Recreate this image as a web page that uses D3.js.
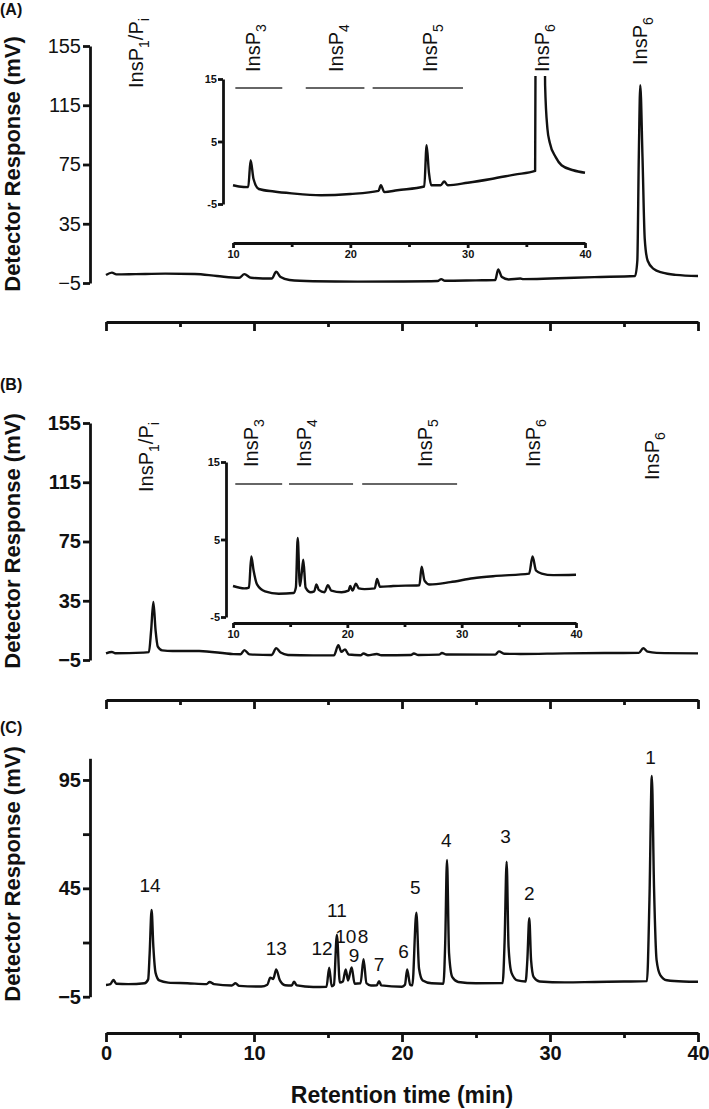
<!DOCTYPE html>
<html><head><meta charset="utf-8">
<script src="https://cdn.jsdelivr.net/npm/d3@7"></script>
<style>
body{margin:0;background:#fff;}
svg{display:block;font-family:"Liberation Sans",Arial,Helvetica,sans-serif;}
</style></head><body>
<svg id="chart" width="709" height="1109"></svg>
<script>
// ---------------- DATA ----------------
// Retention time (min), detector response (mV)
const traceA = [[0,0.4],[0.4,2.0],[0.7,0.8],[2,1.0],[4,1.3],[6,1.1],[7.5,-0.3],[9.0,-1.5],[9.35,1.0],[9.8,-1.5],[11.2,-2.0],[11.5,2.6],[11.8,-1.0],[12.4,-3.0],[14,-3.8],[17,-4.1],[20,-4.0],[22.4,-3.7],[22.65,-2.4],[22.9,-3.5],[25,-3.2],[26.3,-3.0],[26.5,4.2],[26.75,-1.0],[27.2,-2.6],[28.0,-2.0],[28.2,-2.4],[30,-2.0],[33,-1.0],[35.75,-0.3],[35.9,10],[36.0,80],[36.1,128.5],[36.25,80],[36.4,25],[36.6,10],[37.0,4.5],[37.6,2.0],[38.5,0.5],[40,-0.3]];
const insetTraceA = [[10,-2.0],[10.5,-2.2],[11.3,-2.3],[11.5,2.0],[11.75,-1.0],[12.2,-2.6],[13.5,-3.0],[15,-3.3],[17.5,-3.6],[20,-3.4],[22.4,-2.9],[22.6,-2.0],[22.9,-3.1],[24,-2.8],[26.3,-2.2],[26.5,4.4],[26.7,0],[26.9,-2.0],[27.7,-2.0],[28.0,-1.4],[28.3,-2.0],[30,-1.6],[32,-1.0],[34,-0.3],[35.75,0.3],[35.85,60],[36.1,128],[36.6,14],[36.8,7],[37.0,4.8],[37.5,2.5],[38,1.2],[39,0.4],[40,0.0]];
const traceB = [[0,-0.5],[0.4,0.4],[0.6,-0.4],[2.5,0.0],[2.9,0.3],[3.05,15],[3.2,34.2],[3.35,15],[3.5,4],[3.8,1.5],[4.5,1.1],[6.3,1.1],[8.6,-1.0],[9.1,-1.1],[9.35,1.7],[9.7,-1.2],[11.2,-1.6],[11.5,3.0],[11.8,0],[12.3,-1.6],[14,-1.9],[15.4,-1.9],[15.7,5.0],[15.9,0.5],[16.15,2.2],[16.4,-1.3],[17.2,-1.8],[17.4,-0.6],[17.7,-1.8],[18.3,-0.9],[18.6,-1.8],[20.6,-1.6],[20.8,-0.6],[21.1,-1.6],[22.5,-1.4],[22.7,-0.3],[23.0,-1.3],[26.3,-1.4],[26.55,0.8],[26.9,-0.8],[28,-0.9],[31,-0.5],[34,-0.3],[36.0,-0.2],[36.3,2.9],[36.6,0.6],[37.2,-0.2],[40,-0.5]];
const insetTraceB = [[10,-1.0],[11.0,-1.3],[11.4,-1.2],[11.6,2.8],[11.8,1.0],[12.1,-0.8],[12.8,-1.7],[14,-2.0],[15.3,-1.9],[15.5,-1.2],[15.66,5.2],[15.85,-1.0],[16.0,0.5],[16.15,2.4],[16.35,-1.2],[16.8,-1.8],[17.1,-1.7],[17.3,-0.8],[17.5,-1.5],[18.0,-1.8],[18.3,-0.9],[18.6,-1.6],[19.5,-1.8],[20.1,-1.6],[20.25,-1.0],[20.45,-1.6],[20.75,-0.7],[21.0,-1.3],[21.5,-1.4],[22.4,-1.3],[22.6,-0.1],[22.85,-1.1],[24,-1.0],[26.3,-0.9],[26.5,1.5],[26.75,-0.3],[27.2,-0.8],[29,-0.5],[31,0],[33,0.3],[35.9,0.6],[36.2,2.8],[36.5,1.0],[37,0.6],[38,0.4],[40,0.45]];
const traceC = [[0,0.4],[0.3,0.8],[0.5,2.7],[0.7,1.0],[1.5,0.8],[2.6,1.2],[2.85,3],[2.95,15],[3.08,35],[3.2,18],[3.35,6],[3.6,2.5],[4.2,1.5],[5.5,1.2],[6.8,0.8],[7.0,1.8],[7.3,0.8],[8.5,0.2],[8.75,1.2],[9.0,0.0],[10.5,-0.3],[10.9,0.5],[11.1,3.8],[11.3,3.2],[11.5,7.6],[11.75,2.5],[12.1,0.3],[12.55,0.2],[12.7,1.9],[12.9,0.2],[14,-0.5],[14.9,-0.4],[15.08,8.4],[15.25,-0.2],[15.4,0.5],[15.6,23.5],[15.8,1.5],[16.0,2.0],[16.2,7.6],[16.35,2.5],[16.6,8.5],[16.8,1.0],[17.2,1.2],[17.4,12.3],[17.6,1.2],[17.9,0.2],[18.3,0.3],[18.45,2.2],[18.6,0.2],[20.0,-0.4],[20.2,0.5],[20.35,7.6],[20.55,0.5],[20.7,0.3],[20.97,33.8],[21.15,8],[21.4,2.5],[22,1.2],[22.8,1.0],[22.92,20],[23.04,58.1],[23.18,15],[23.4,4],[23.8,1.8],[25,1.2],[26.8,1.3],[26.93,20],[27.07,57.3],[27.2,18],[27.4,6],[27.8,2.5],[28.35,2],[28.47,12],[28.6,31.2],[28.72,12],[28.9,4],[29.3,2],[31,1.6],[33,1.8],[35,2.0],[36.55,2.2],[36.72,40],[36.88,96.8],[37.03,45],[37.2,12],[37.45,5],[37.9,2.6],[39,2.0],[40,1.9]];

const mainYTicksAB = [-5,35,75,115,155];
const mainYTicksC = [-5,45,95];
const minorYTicksC = [20,70];
const xMajorTicks = [0,10,20,30,40];
const xMinorTicks = [5,15,25,35];
const insetYTicks = [-5,5,15];
const insetXMajor = [10,20,30,40];
const insetXMinor = [15,25,35];

// inositol phosphate fraction windows (min) shown as bars in the insets
const groupNamesAB = ["3","4","5"];
const groupFromA = [10.2,16.2,21.9];
const groupToA   = [14.2,21.2,29.6];
const groupFromB = [10.2,14.9,21.3];
const groupToB   = [14.3,20.5,29.6];
// peak-name label times
const insetLabelNames = ["3","4","5","6"];
const insetLabelTimesA = [11.7,18.8,26.8,36.3];
const insetLabelTimesB = [11.6,16.2,26.8,36.2];
const mainInsP1TimeA = 2.0, mainInsP1TimeB = 2.7;
const mainInsP6TimeA = 36.1, mainInsP6TimeB = 36.9;
// panel C peak numbers: label, time, mV (label baseline)
const peakLabelsC = ["14","13","12","11","10","8","9","7","6","5","4","3","2","1"];
const peakLabelTimesC = [2.97,11.5,14.6,15.6,16.2,17.36,16.76,18.45,20.1,20.9,23.0,27.0,28.6,36.8];
const peakLabelValuesC = [43.3,14.2,14.2,31.8,19.8,19.8,11.0,7.0,13.0,42.4,64.1,65.9,39.8,102.5];

// ---------------- LAYOUT ----------------
const svg = d3.select("#chart");
const X0 = 106, X1 = 698;
const BLACK = "#111";
const AXW = 2.8, LW = 2.4;

function styleAxis(g, fs, bold, sw){
  g.attr("font-size", null).attr("font-family", null);
  g.selectAll("path.domain").attr("stroke", BLACK).attr("stroke-width", sw);
  g.selectAll(".tick line").attr("stroke", BLACK).attr("stroke-width", sw);
  g.selectAll(".tick text").attr("fill", BLACK).attr("font-size", fs).attr("font-weight", bold ? "bold" : "normal");
}
const fmtMain = d => d < 0 ? "\u2212" + Math.abs(d) : String(d);
const fmtInset = d => d < 0 ? "-" + Math.abs(d) : String(d);
const lineGen = (x, y) => d3.line().curve(d3.curveMonotoneX).x(d => x(d[0])).y(d => y(d[1]));

function rotLabel(parent, cx, by, parts, fs){
  const t = parent.append("text")
    .attr("transform", `translate(${cx + 0.36*fs},${by}) rotate(-90)`)
    .attr("font-size", fs).attr("fill", BLACK);
  let shift = 0;
  parts.forEach(([s, sub]) => {
    const want = sub ? fs*0.3 : 0;
    const ts = t.append("tspan").text(s).attr("dy", want - shift);
    if (sub) ts.attr("font-size", fs*0.7);
    shift = want;
  });
}

function mainPanel(cfg){
  const g = svg.append("g");
  const x = d3.scaleLinear().domain([0,40]).range([X0,X1]);
  const y = d3.scaleLinear().domain(cfg.yDomain).range(cfg.yRange);
  const ya = g.append("g").attr("transform", "translate(90,0)")
    .call(d3.axisLeft(y).tickValues(cfg.yTicks).tickSize(7).tickSizeOuter(0).tickPadding(2).tickFormat(fmtMain));
  styleAxis(ya, cfg.tickFs, cfg.tickBold, AXW);
  if (cfg.yMinor){
    const ym = g.append("g").attr("transform", "translate(90,0)")
      .call(d3.axisLeft(y).tickValues(cfg.yMinor).tickSize(7).tickFormat(""));
    ym.select(".domain").remove();
    styleAxis(ym, 0, false, AXW);
  }
  const xa = g.append("g").attr("transform", `translate(0,${cfg.xAxisY})`)
    .call(d3.axisBottom(x).tickValues(xMajorTicks).tickSize(9).tickSizeOuter(0).tickPadding(4)
      .tickFormat(cfg.xLabels ? (d => String(d)) : ""));
  styleAxis(xa, 20, true, AXW);
  const xm = g.append("g").attr("transform", `translate(0,${cfg.xAxisY})`)
    .call(d3.axisBottom(x).tickValues(xMinorTicks).tickSize(5).tickFormat(""));
  xm.select(".domain").remove();
  styleAxis(xm, 0, false, AXW);
  g.append("path").datum(cfg.trace)
    .attr("fill", "none").attr("stroke", BLACK).attr("stroke-width", LW)
    .attr("stroke-linejoin", "round").attr("d", lineGen(x, y));
  g.append("text").attr("transform", `translate(20,${cfg.titleY}) rotate(-90)`)
    .attr("text-anchor", "middle").attr("font-size", 22).attr("font-weight", "bold")
    .attr("fill", BLACK).text("Detector Response (mV)");
  g.append("text").attr("x", 0).attr("y", cfg.letterY).attr("font-size", 16).attr("font-weight", "bold")
    .attr("fill", BLACK).text(cfg.letter);
  return {g, x, y};
}

function insetPanel(cfg){
  const g = svg.append("g");
  const x = d3.scaleLinear().domain([10,40]).range(cfg.xRange);
  const y = d3.scaleLinear().domain([-5,15]).range(cfg.yRange);
  const ya = g.append("g").attr("transform", `translate(${cfg.yAxisX},0)`)
    .call(d3.axisLeft(y).tickValues(insetYTicks).tickSize(5).tickSizeOuter(0).tickPadding(1).tickFormat(fmtInset));
  styleAxis(ya, 11, true, AXW);
  const xa = g.append("g").attr("transform", `translate(0,${cfg.xAxisY})`)
    .call(d3.axisBottom(x).tickValues(insetXMajor).tickSize(5).tickSizeOuter(0).tickPadding(2).tickFormat(d => String(d)));
  styleAxis(xa, 11, true, AXW);
  const xm = g.append("g").attr("transform", `translate(0,${cfg.xAxisY})`)
    .call(d3.axisBottom(x).tickValues(insetXMinor).tickSize(4).tickFormat(""));
  xm.select(".domain").remove();
  styleAxis(xm, 0, false, AXW);
  const clipId = "clip" + cfg.id;
  svg.append("clipPath").attr("id", clipId).append("rect")
    .attr("x", cfg.xRange[0] - 5).attr("y", y(15) - 3)
    .attr("width", cfg.xRange[1] - cfg.xRange[0] + 10).attr("height", cfg.yRange[0] - y(15) + 20);
  g.append("path").datum(cfg.trace).attr("clip-path", `url(#${clipId})`)
    .attr("fill", "none").attr("stroke", BLACK).attr("stroke-width", LW)
    .attr("stroke-linejoin", "round").attr("d", lineGen(x, y));
  groupNamesAB.forEach((n, i) => {
    g.append("line").attr("x1", x(cfg.from[i])).attr("x2", x(cfg.to[i]))
      .attr("y1", cfg.barY).attr("y2", cfg.barY)
      .attr("stroke", "#333").attr("stroke-width", 1.4);
  });
  insetLabelNames.forEach((n, i) => {
    rotLabel(g, x(cfg.labelTimes[i]), cfg.labelBottom, [["InsP", false], [n, true]], 20);
  });
  return {g, x, y};
}

// Panel A
const A = mainPanel({letter:"(A)", letterY:15, yDomain:[-5,155], yRange:[283,46], yTicks:mainYTicksAB,
  tickFs:20, tickBold:false, xAxisY:322, xLabels:false, trace:traceA, titleY:164});
rotLabel(A.g, A.x(mainInsP1TimeA), 88, [["InsP",false],["1",true],["/P",false],["i",true]], 20);
rotLabel(A.g, A.x(mainInsP6TimeA), 65, [["InsP",false],["6",true]], 20);
insetPanel({id:"A", xRange:[233,585], yRange:[204,79], yAxisX:223, xAxisY:243, trace:insetTraceA,
  from:groupFromA, to:groupToA, barY:88, labelTimes:insetLabelTimesA, labelBottom:72});

// Panel B
const B = mainPanel({letter:"(B)", letterY:390, yDomain:[-5,155], yRange:[660,423], yTicks:mainYTicksAB,
  tickFs:20, tickBold:true, xAxisY:700, xLabels:false, trace:traceB, titleY:541});
rotLabel(B.g, B.x(mainInsP1TimeB), 492, [["InsP",false],["1",true],["/P",false],["i",true]], 20);
rotLabel(B.g, B.x(mainInsP6TimeB), 480, [["InsP",false],["6",true]], 20);
insetPanel({id:"B", xRange:[233,576], yRange:[617,462], yAxisX:226, xAxisY:623, trace:insetTraceB,
  from:groupFromB, to:groupToB, barY:484, labelTimes:insetLabelTimesB, labelBottom:467});

// Panel C
const C = mainPanel({letter:"(C)", letterY:733, yDomain:[-5,105], yRange:[996.7,758.3], yTicks:mainYTicksC,
  yMinor:minorYTicksC, tickFs:20, tickBold:true, xAxisY:1033, xLabels:true, trace:traceC, titleY:874});
peakLabelsC.forEach((lab, i) => {
  C.g.append("text").attr("x", C.x(peakLabelTimesC[i])).attr("y", C.y(peakLabelValuesC[i]))
    .attr("text-anchor", "middle").attr("font-size", 19).attr("fill", BLACK).text(lab);
});
svg.append("text").attr("x", (X0 + X1)/2).attr("y", 1103).attr("text-anchor", "middle")
  .attr("font-size", 23).attr("font-weight", "bold").attr("fill", BLACK).text("Retention time (min)");
</script>
</body></html>
